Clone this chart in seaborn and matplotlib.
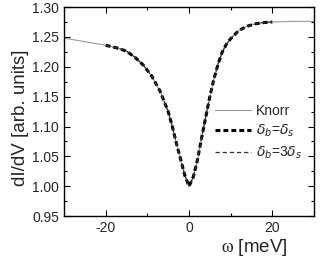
import numpy as np
import pandas as pd
import matplotlib
matplotlib.use("Agg")
import matplotlib.pyplot as plt
from matplotlib.ticker import MultipleLocator, FormatStrFormatter
import seaborn as sns

# Datos
omega_knorr = [-30, -25, -20, -17, -15, -13, -11, -9, -7, -5, -4, -3, -2, -1, 0,
               1, 2, 3, 4, 5, 6, 7, 8, 9, 10, 12, 14, 16, 18, 20, 25, 30]
didv_knorr = [1.248, 1.242, 1.236, 1.231, 1.226, 1.216, 1.203, 1.185, 1.160, 1.125,
              1.100, 1.071, 1.045, 1.018, 1.000, 1.015, 1.043, 1.080, 1.115, 1.150,
              1.180, 1.205, 1.225, 1.238, 1.247, 1.261, 1.268, 1.272, 1.274, 1.275,
              1.276, 1.276]

omega_delta = [-20, -17, -15, -13, -11, -9, -7, -5, -4, -3, -2, -1, 0,
               1, 2, 3, 4, 5, 6, 7, 8, 9, 10, 12, 14, 16, 18, 20]
didv_eq = [1.236, 1.231, 1.226, 1.216, 1.203, 1.185, 1.160, 1.125, 1.100, 1.071,
           1.045, 1.018, 1.000, 1.015, 1.043, 1.080, 1.115, 1.150, 1.180, 1.205,
           1.225, 1.238, 1.247, 1.261, 1.268, 1.272, 1.274, 1.275]
didv_3 = [1.236, 1.231, 1.226, 1.216, 1.203, 1.185, 1.160, 1.125, 1.100, 1.071,
          1.045, 1.018, 1.000, 1.015, 1.043, 1.080, 1.115, 1.150, 1.180, 1.205,
          1.225, 1.238, 1.247, 1.261, 1.268, 1.272, 1.274, 1.275]

sns.set_style("ticks")
plt.rcParams['font.family'] = ['Liberation Sans', 'DejaVu Sans']
plt.rcParams['mathtext.fontset'] = 'dejavusans'
plt.rcParams['axes.unicode_minus'] = False

fig = plt.figure(figsize=(3.27, 2.61), dpi=100)
ax = fig.add_axes([0.196, 0.172, 0.764, 0.801])

sns.lineplot(x=omega_knorr, y=didv_knorr, ax=ax, color='#999999', lw=0.8, label='Knorr')
sns.lineplot(x=omega_delta, y=didv_eq, ax=ax, color='black', lw=2.2,
             label=r'$\delta_b$=$\delta_s$')
ax.lines[-1].set_dashes([1.6, 1.0])
sns.lineplot(x=omega_delta, y=didv_3, ax=ax, color='#333333', lw=0.9,
             label=r'$\delta_b$=3$\delta_s$')
ax.lines[-1].set_dashes([3.5, 2.2])

ax.set_xlim(-30, 30)
ax.set_ylim(0.95, 1.30)
ax.xaxis.set_major_locator(MultipleLocator(20))
ax.xaxis.set_minor_locator(MultipleLocator(10))
ax.yaxis.set_major_locator(MultipleLocator(0.05))
ax.yaxis.set_minor_locator(MultipleLocator(0.025))
ax.yaxis.set_major_formatter(FormatStrFormatter('%.2f'))
ax.tick_params(which='both', direction='in', top=True, right=True, labelsize=10,
               width=0.8, color='black')
ax.tick_params(which='major', length=4)
ax.tick_params(which='minor', length=2.5)
for s in ax.spines.values():
    s.set_visible(True)
    s.set_linewidth(1.0)
    s.set_color('black')

ax.set_xlabel(r'$\mathrm{\omega}$ [meV]', fontsize=13.5, math_fontfamily='stix', labelpad=2)
ax.xaxis.set_label_coords(0.76, -0.1, transform=ax.transAxes)
ax.xaxis.label.set_va('top')
ax.set_ylabel('dI/dV [arb. units]', fontsize=13.5, labelpad=2)
ax.yaxis.label.set_y(0.47)

ax.legend(loc='center left', bbox_to_anchor=(0.605, 0.40), frameon=False,
          borderpad=0, borderaxespad=0, fontsize=10, handlelength=2.6,
          handletextpad=0.3, labelspacing=0.4)

fig.savefig("out.png", dpi=100)
plt.close()
